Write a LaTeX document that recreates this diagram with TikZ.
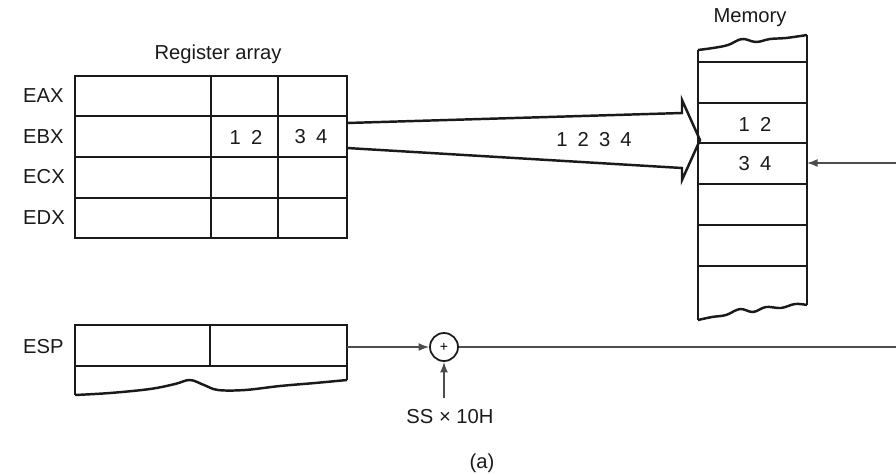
\documentclass[tikz,border=0pt]{standalone}
\usepackage{fontspec}
\setmainfont{Liberation Sans}
\usetikzlibrary{arrows.meta}
\definecolor{ink}{HTML}{1A1A1A}
\definecolor{wire}{HTML}{4D4D4D}
\tikzset{cell/.style={draw=ink,line width=1.4pt},
  txt/.style={font=\fontsize{11.5}{13}\selectfont,text=ink},
  reglbl/.style={txt,anchor=west},
  wirearr/.style={draw=wire,line width=0.8pt,-{Latex[length=6pt,width=4.5pt]}},
  adder/.style={circle,draw=ink,line width=1pt,inner sep=0pt,minimum size=0.56cm,font=\fontsize{8}{8}\selectfont}}

\begin{document}
\begin{tikzpicture}[x=0.02cm,y=-0.02cm]
\useasboundingbox (0,0) rectangle (896,474);
% register array
\node[txt] (regtitle) at (218,54) {Register array};
\draw[cell] (75,76) rectangle (347,238);
\foreach \y in {116,157,198} \draw[cell] (75,\y) -- (347,\y);
\foreach \x in {211,278} \draw[cell] (\x,76) -- (\x,238);
\foreach \n/\y in {EAX/96,EBX/137,ECX/177,EDX/218} \node[reglbl] (lbl\n) at (17,\y) {\n};
\node[txt] (bxhi) at (246,137) {1\enspace2};
\node[txt] (bxlo) at (311,137) {3\enspace4};
% wide transfer arrow
\draw[cell,line join=miter] (347,123) -- (682,113) -- (682,100) -- (700,140) -- (682,180) -- (682,168) -- (347,148);
\node[txt] (word) at (594,140) {1\enspace2\enspace3\enspace4};
% memory
\node[txt] (memtitle) at (750,18) {Memory};
\draw[cell] (698,50) -- (698,320);
\draw[cell] (807,35) -- (807,305);
\draw[cell] plot[smooth,tension=0.6] coordinates {(698,50) (713,48) (728,45) (742,39) (756,42) (770,39) (786,38) (807,35)};
\draw[cell] plot[smooth,tension=0.6] coordinates {(698,320) (712,317) (726,315) (740,309) (753,312) (766,307) (781,308) (795,304) (807,305)};
\foreach \y in {62,103,143,184,225,266} \draw[cell] (698,\y) -- (807,\y);
\node[txt] (memhi) at (755,124) {1\enspace2};
\node[txt] (memlo) at (755,164) {3\enspace4};
\coordinate (ptrin) at (896,163);
\coordinate (memin) at (807,163);
\draw[wirearr] (ptrin) -- (memin);
% stack pointer
\node[reglbl] (lblESP) at (17,347) {ESP};
\draw[cell,line join=miter] (75,395) -- (75,325) -- (347,325) -- (347,380);
\draw[cell] (75,366) -- (347,366);
\draw[cell] (210,325) -- (210,366);
\draw[cell] plot[smooth,tension=0.6] coordinates {(75,395) (110,393) (150,389) (175,384) (190,380) (204,385) (218,390) (245,390) (280,386) (315,383) (347,380)};
\node[adder] (adder) at (444,347) {+};
\coordinate (espout) at (347,347);
\draw[wirearr] (espout) -- (adder);
\coordinate (ptrout) at (896,347);
\draw[draw=wire,line width=0.8pt] (adder) -- (ptrout);
\node[txt] (seg) at (450,417) {SS × 10H};
\coordinate (segtop) at (444,398);
\draw[wirearr] (segtop) -- (adder);
\node[txt] (cap) at (482,463) {(a)};
\end{tikzpicture}
\end{document}
